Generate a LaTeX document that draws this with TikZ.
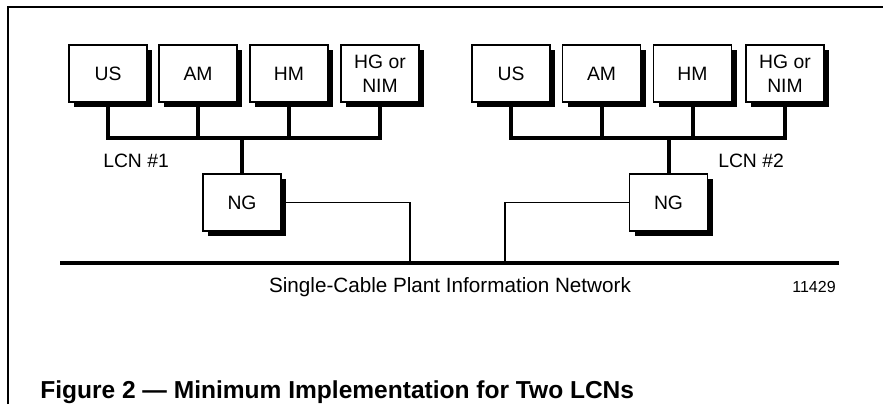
\documentclass[tikz,border=0pt]{standalone}
\usepackage{fontspec}
\setmainfont{Liberation Sans}
\usetikzlibrary{shadows}

\begin{document}
\begin{tikzpicture}[
    x=0.75pt, y=-0.75pt,
    unit_box/.style={rectangle, draw, fill=white, line width=1.2pt, minimum width=58.5pt, minimum height=42.75pt, inner sep=0pt, font=\fontsize{14.5}{18}\selectfont, align=center,
        drop shadow={shadow xshift=3.75pt, shadow yshift=-3.75pt, fill=black, opacity=1}},
    bus/.style={line width=3pt},
    tap/.style={line width=1.1pt},
    lbl/.style={font=\fontsize{14.5}{18}\selectfont, inner sep=0pt}
]
    \useasboundingbox (0,0) rectangle (883,404);
    % frame
    \draw[line width=1.7pt] (8,404) -- (8,7) -- (883,7);

    % LCN #1
    \node[unit_box] (US1) at (108,73.5) {US};
    \node[unit_box] (AM1) at (198,73.5) {AM};
    \node[unit_box] (HM1) at (289,73.5) {HM};
    \node[unit_box] (HG1) at (380,73.5) {HG or\\NIM};
    \node[unit_box] (NG1) at (242,202.5) {NG};
    \coordinate (bus1) at (242,138);
    \draw[bus] (US1.south) -- (US1.south |- bus1) -| (HG1.south);
    \draw[bus] (AM1.south) -- (AM1.south |- bus1);
    \draw[bus] (HM1.south) -- (HM1.south |- bus1);
    \draw[bus] (bus1) -- (NG1.north);
    \node[lbl, anchor=base west] (lcn1) at (103,167) {LCN \#1};

    % LCN #2
    \node[unit_box] (US2) at (511,73.5) {US};
    \node[unit_box] (AM2) at (601.5,73.5) {AM};
    \node[unit_box] (HM2) at (692.5,73.5) {HM};
    \node[unit_box] (HG2) at (785,73.5) {HG or\\NIM};
    \node[unit_box] (NG2) at (668.5,202.5) {NG};
    \coordinate (bus2) at (668.5,138);
    \draw[bus] (US2.south) -- (US2.south |- bus2) -| (HG2.south);
    \draw[bus] (AM2.south) -- (AM2.south |- bus2);
    \draw[bus] (HM2.south) -- (HM2.south |- bus2);
    \draw[bus] (bus2) -- (NG2.north);
    \node[lbl, anchor=base west] (lcn2) at (718,167) {LCN \#2};

    % plant network
    \coordinate (pinL) at (60,263);
    \coordinate (pinR) at (839,263);
    \coordinate (drop1) at (410,263);
    \coordinate (drop2) at (505,263);
    \draw[bus] (pinL) -- (pinR);
    \draw[tap] (NG1.east) -| (drop1);
    \draw[tap] (NG2.west) -| (drop2);
    \node[inner sep=0pt, anchor=base, font=\fontsize{15.5}{18}\selectfont] (pin) at (450,292) {Single-Cable Plant Information Network};
    \node[inner sep=0pt, anchor=base, font=\fontsize{12}{14}\selectfont] (fignum) at (814,292) {11429};

    % caption
    \node[inner sep=0pt, anchor=base west, font=\fontsize{18.4}{22}\selectfont\bfseries] (caption) at (40,398) {Figure 2 — Minimum Implementation for Two LCNs};
\end{tikzpicture}
\end{document}
